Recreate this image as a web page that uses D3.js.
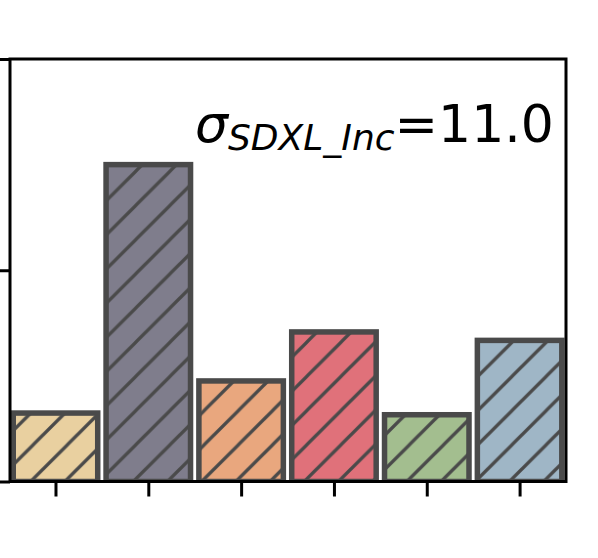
<!DOCTYPE html>
<html>
<head>
<meta charset="utf-8">
<script src="https://cdn.jsdelivr.net/npm/d3@7"></script>
<style>
  html, body { margin: 0; padding: 0; background: #fff; }
  svg { display: block; }
</style>
</head>
<body>
<svg id="chart" width="598" height="558"></svg>
<script>
// ---- data ----
const categories = ["m1", "m2", "m3", "m4", "m5", "m6"];
const values = [8.1, 37.5, 11.9, 17.7, 7.9, 16.7];
const barColors = ["#E9D0A0", "#7F7D8C", "#E9A77E", "#E0717A", "#A3BE8F", "#9FB6C6"];
const yTicks = [0, 25, 50];
const yDomain = [0, 50];
const annotationMain = "σ";
const annotationSub = "SDXL_Inc";
const annotationValue = "=11.0";

(function () {
  // ---- layout ----
  const pLeft = 10, pRight = 566, pTop = 59, pBottom = 481.5;
  const edge = "#4a4a4a";

  const svg = d3.select("#chart");

  const x = d3.scaleLinear().domain([-0.49, categories.length - 0.5]).range([pLeft, pRight]);
  const y = d3.scaleLinear().domain(yDomain).range([pBottom, pTop]);
  const barW = x(0.455) - x(-0.455);

  const defs = svg.append("defs");
  defs.append("clipPath").attr("id", "plotclip")
    .append("rect").attr("x", pLeft).attr("y", pTop).attr("width", pRight - pLeft).attr("height", pBottom - pTop);

  const P = 34.2;
  const pat = defs.append("pattern")
    .attr("id", "hatch")
    .attr("patternUnits", "userSpaceOnUse")
    .attr("x", -0.8).attr("y", 0)
    .attr("width", P).attr("height", P);
  [[-2, P + 2, P + 2, -2], [-2, 2, 2, -2], [P - 2, P + 2, P + 2, P - 2]].forEach(l => {
    pat.append("line")
      .attr("x1", l[0]).attr("y1", l[1]).attr("x2", l[2]).attr("y2", l[3])
      .attr("stroke", edge).attr("stroke-width", 3.3);
  });

  const g = svg.append("g").attr("clip-path", "url(#plotclip)");
  const data = categories.map((c, i) => ({ c, i, v: values[i], col: barColors[i] }));

  g.selectAll("rect.fill").data(data).enter().append("rect")
    .attr("class", "fill")
    .attr("x", d => x(d.i) - barW / 2)
    .attr("y", d => y(d.v))
    .attr("width", barW)
    .attr("height", d => y(0) - y(d.v))
    .attr("fill", d => d.col);

  g.selectAll("rect.hatch").data(data).enter().append("rect")
    .attr("class", "hatch")
    .attr("x", d => x(d.i) - barW / 2)
    .attr("y", d => y(d.v))
    .attr("width", barW)
    .attr("height", d => y(0) - y(d.v))
    .attr("fill", "url(#hatch)")
    .attr("stroke", edge)
    .attr("stroke-width", 5.5);

  // axes (ticks only)
  const yAxis = d3.axisLeft(y).tickValues(yTicks).tickSize(14).tickFormat("");
  const yg = svg.append("g").attr("transform", `translate(${pLeft},0)`).call(yAxis);
  yg.select(".domain").remove();
  yg.selectAll(".tick line").attr("stroke", "#000").attr("stroke-width", 3);

  const xAxis = d3.axisBottom(x).tickValues(categories.map((c, i) => i)).tickSize(15).tickFormat("");
  const xg = svg.append("g").attr("transform", `translate(0,${pBottom})`).call(xAxis);
  xg.select(".domain").remove();
  xg.selectAll(".tick line").attr("stroke", "#000").attr("stroke-width", 3);

  // spines
  svg.append("rect")
    .attr("x", pLeft).attr("y", pTop)
    .attr("width", pRight - pLeft).attr("height", pBottom - pTop)
    .attr("fill", "none").attr("stroke", "#000").attr("stroke-width", 3);

  // annotation
  const t = svg.append("text")
    .attr("x", 195).attr("y", 142)
    .attr("font-family", "DejaVu Sans")
    .attr("font-size", 52)
    .attr("fill", "#000");
  t.append("tspan").attr("font-style", "italic").text(annotationMain);
  t.append("tspan").attr("font-style", "italic").attr("font-size", 36).attr("dy", 8).text(annotationSub);
  t.append("tspan").attr("dy", -8).text(annotationValue);
})();
</script>
</body>
</html>
